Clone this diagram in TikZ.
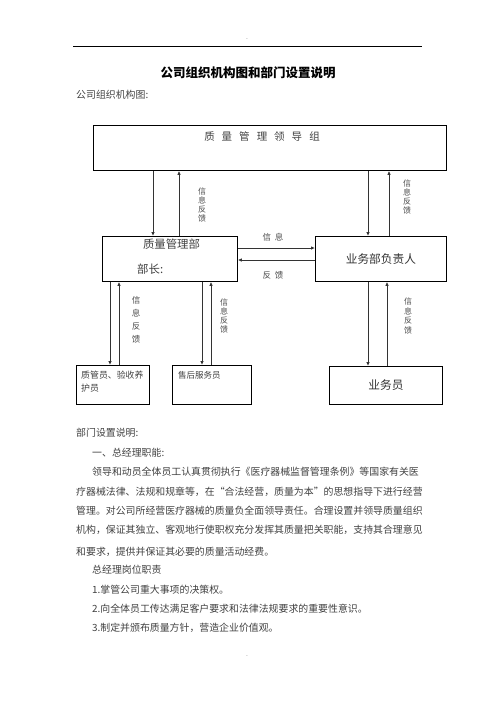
\documentclass[tikz,border=0pt]{standalone}
\usepackage{fontspec}
\setmainfont{Noto Sans CJK SC}
\usetikzlibrary{arrows.meta, positioning}

\tikzset{
  box/.style={draw, line width=0.8pt, inner sep=0pt, anchor=north west},
  link/.style={line width=1pt, draw=black!80, -{Latex[length=4pt,width=3.5pt]}},
  vlabel/.style={align=center, inner sep=0pt, text=black!70, font=\fontsize{8}{8.7}\selectfont},
  hlabel/.style={inner sep=0pt, text=black!70, font=\fontsize{8.5}{10}\selectfont},
  bodytext/.style={anchor=west, inner sep=0pt, text=black!75, font=\fontsize{9.9}{12}\selectfont},
}
\newcommand\wgap{\hspace{7pt}}

\begin{document}
\begin{tikzpicture}[x=1pt, y=-1pt]
  \useasboundingbox (0,0) rectangle (496,702);

  % Page header
  \node[inner sep=0pt, text=black!50, font=\fontsize{5}{5}\selectfont] (topdash) at (247,40) {-};
  \draw[line width=0.8pt] (73,46) -- (422,46);
  \node[inner sep=0pt, font=\fontsize{12.5}{14}\selectfont\bfseries] (title) at (248,73) {公司组织机构图和部门设置说明};
  \node[bodytext] (chartcap) at (76,95) {公司组织机构图:};

  % Top box
  \node[box, minimum width=353pt, minimum height=45pt] (lead) at (93,125) {};
  \node[inner sep=0pt, text=black!75, font=\fontsize{10.5}{12}\selectfont] (leadtxt) at (262,137)
    {质\wgap 量\wgap 管\wgap 理\wgap 领\wgap 导\wgap 组};

  % Middle boxes
  \node[box, minimum width=135pt, minimum height=45pt] (qm) at (102,236) {};
  \node[inner sep=0pt, text=black!75, font=\fontsize{11.4}{13}\selectfont] (qmtxt) at (171.5,244) {质量管理部};
  \node[inner sep=0pt, anchor=west, text=black!75, font=\fontsize{11.4}{13}\selectfont] (qmhead) at (137,269) {部长:};

  \node[box, minimum width=131pt, minimum height=45pt, text=black!80,
        font=\fontsize{11.7}{13}\selectfont] (biz) at (315,236) {业务部负责人};

  % Bottom boxes
  \node[box, minimum width=73pt, minimum height=39pt] (qc) at (76,365) {};
  \node[inner sep=0pt, anchor=west, text=black!75, font=\fontsize{8.9}{10}\selectfont] (qctxt) at (81,375) {质管员、验收养};
  \node[inner sep=0pt, anchor=west, text=black!75, font=\fontsize{8.9}{10}\selectfont] (qctxt2) at (81,388) {护员};

  \node[box, minimum width=79pt, minimum height=39pt] (svc) at (172,365) {};
  \node[inner sep=0pt, anchor=west, text=black!75, font=\fontsize{8.5}{10}\selectfont] (svctxt) at (178,375) {售后服务员};

  \node[box, minimum width=113pt, minimum height=38pt, text=black!80,
        font=\fontsize{11.7}{13}\selectfont] (sales) at (329,366) {业务员};

  % Lead <-> quality dept
  \draw[link] ([xshift=51]qm.north west |- lead.south) -- ([xshift=51]qm.north west);
  \draw[link] ([xshift=77]qm.north west) -- ([xshift=77]qm.north west |- lead.south);
  \node[vlabel] (fb1) at (202,205) {信\\息\\反\\馈};

  % Lead <-> business head
  \draw[link] ([xshift=53]biz.north west |- lead.south) -- ([xshift=53]biz.north west);
  \draw[link] ([xshift=74]biz.north west) -- ([xshift=74]biz.north west |- lead.south);
  \node[vlabel] (fb2) at (407,197) {信\\息\\反\\馈};

  % Quality dept <-> business head
  \draw[link] ([yshift=-12]qm.north east) -- ([yshift=-12]qm.north east -| biz.west);
  \draw[link] ([yshift=-24]qm.north east -| biz.west) -- ([yshift=-24]qm.north east);
  \node[hlabel] (info) at (273,237) {信\hspace{4pt}息};
  \node[hlabel] (back) at (273,275) {反\hspace{4pt}馈};

  % Quality dept <-> quality staff
  \draw[link] ([xshift=34]qc.north west |- qm.south) -- ([xshift=34]qc.north west);
  \draw[link] ([xshift=43]qc.north west) -- ([xshift=43]qc.north west |- qm.south);
  \node[vlabel, font=\fontsize{8.5}{13}\selectfont] (fb3) at (136,320) {信\\息\\反\\馈};

  % Quality dept <-> after-sales
  \draw[link] ([xshift=30]svc.north west |- qm.south) -- ([xshift=30]svc.north west);
  \draw[link] ([xshift=39]svc.north west) -- ([xshift=39]svc.north west |- qm.south);
  \node[vlabel, font=\fontsize{8}{9.2}\selectfont] (fb4) at (224,316) {信\\息\\反\\馈};

  % Business head <-> sales staff
  \draw[link] ([xshift=39]sales.north west |- biz.south) -- ([xshift=39]sales.north west);
  \draw[link] ([xshift=58]sales.north west) -- ([xshift=58]sales.north west |- biz.south);
  \node[vlabel, font=\fontsize{8}{9.5}\selectfont] (fb5) at (408,316) {信\\息\\反\\馈};

  % Notes below the chart
  \node[bodytext] (sec) at (76,433) {部门设置说明:};
  \node[bodytext] (sec1) at (92,453) {一、总经理职能:};
  \node[bodytext] (p1) at (92,472) {领导和动员全体员工认真贯彻执行《医疗器械监督管理条例》等国家有关医};
  \node[bodytext] (p2) at (76,492) {疗器械法律、法规和规章等，在“合法经营，质量为本”的思想指导下进行经营};
  \node[bodytext] (p3) at (76,511) {管理。对公司所经营医疗器械的质量负全面领导责任。合理设置并领导质量组织};
  \node[bodytext] (p4) at (76,530) {机构，保证其独立、客观地行使职权充分发挥其质量把关职能，支持其合理意见};
  \node[bodytext] (p5) at (76,552) {和要求，提供并保证其必要的质量活动经费。};
  \node[bodytext] (duty) at (92,570) {总经理岗位职责};
  \node[bodytext] (d1) at (92,590) {1.掌管公司重大事项的决策权。};
  \node[bodytext] (d2) at (92,609) {2.向全体员工传达满足客户要求和法律法规要求的重要性意识。};
  \node[bodytext] (d3) at (92,628) {3.制定并颁布质量方针，营造企业价值观。};

  % Page footer
  \node[inner sep=0pt, text=black!50, font=\fontsize{5}{5}\selectfont] (botdash) at (247,657) {-};
\end{tikzpicture}
\end{document}
